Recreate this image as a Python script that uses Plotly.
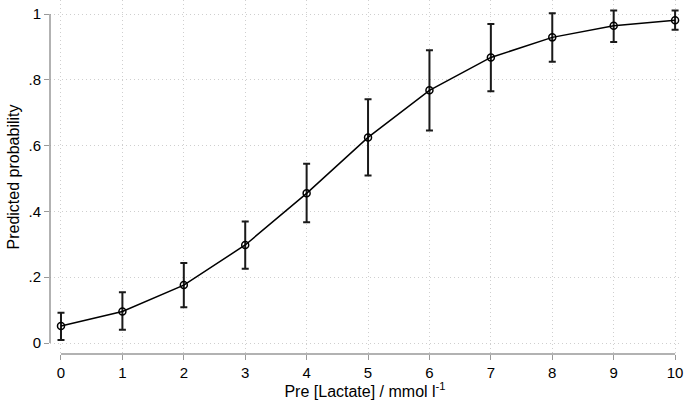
import plotly.graph_objects as go

lactate = [0, 1, 2, 3, 4, 5, 6, 7, 8, 9, 10]
prob = [0.052, 0.096, 0.176, 0.298, 0.455, 0.625, 0.768, 0.868, 0.929, 0.964, 0.981]
ci_upper = [0.092, 0.154, 0.243, 0.369, 0.545, 0.741, 0.890, 0.970, 1.002, 1.011, 1.011]
ci_lower = [0.009, 0.040, 0.109, 0.226, 0.367, 0.509, 0.646, 0.765, 0.855, 0.915, 0.952]
y_ticks = [0, 0.2, 0.4, 0.6, 0.8, 1]
y_tick_labels = ["0", ".2", ".4", ".6", ".8", "1"]
x_ticks = list(range(0, 11))

err_plus = [u - p for u, p in zip(ci_upper, prob)]
err_minus = [p - l for p, l in zip(prob, ci_lower)]

fig = go.Figure()
fig.add_trace(go.Scatter(
    x=lactate, y=prob, mode="lines+markers",
    line=dict(color="black", width=1.5),
    marker=dict(symbol="circle-open", size=7, color="black", line=dict(width=1.5)),
    error_y=dict(type="data", symmetric=False, array=err_plus, arrayminus=err_minus,
                 color="#1a1a1a", thickness=2, width=3.5),
    showlegend=False,
))

grid = dict(showgrid=True, gridcolor="#cfcfcf", gridwidth=1, griddash="1px,3px")
tickfont = dict(family="Liberation Sans, Arial, sans-serif", size=15, color="black")
titlefont = dict(family="Liberation Sans, Arial, sans-serif", size=16, color="black")
fig.update_layout(
    width=685, height=400,
    margin=dict(l=50, r=5, t=0, b=46, autoexpand=False),
    paper_bgcolor="white", plot_bgcolor="white",
    font=dict(family="Liberation Sans, Arial, sans-serif", size=15, color="black"),
    xaxis=dict(range=[-0.179, 10.08], tickvals=x_ticks, ticks="outside", ticklen=5,
               tickcolor="#999999", showline=False, zeroline=False, automargin=False,
               tickfont=tickfont,
               title=dict(text="Pre [Lactate] / mmol l<sup>-1</sup>", standoff=4, font=titlefont),
               **grid),
    yaxis=dict(range=[-0.0334, 1.0426], tickvals=y_ticks, ticktext=y_tick_labels,
               ticks="outside", ticklen=5, tickcolor="#999999", showline=False,
               zeroline=False, automargin=False, tickfont=tickfont,
               title=dict(text="Predicted probability", standoff=4, font=titlefont),
               **grid),
)
# Stata-style axis lines spanning only the tick range
fig.add_shape(type="line", xref="x", yref="paper", x0=x_ticks[0], x1=x_ticks[-1], y0=0, y1=0,
              line=dict(color="#999999", width=1.5))
fig.add_shape(type="line", xref="paper", yref="y", x0=0, x1=0, y0=y_ticks[0], y1=y_ticks[-1],
              line=dict(color="#999999", width=1.5))

fig.write_html("out.html", config={"displayModeBar": False},
               post_script="document.body.style.margin='0';")
